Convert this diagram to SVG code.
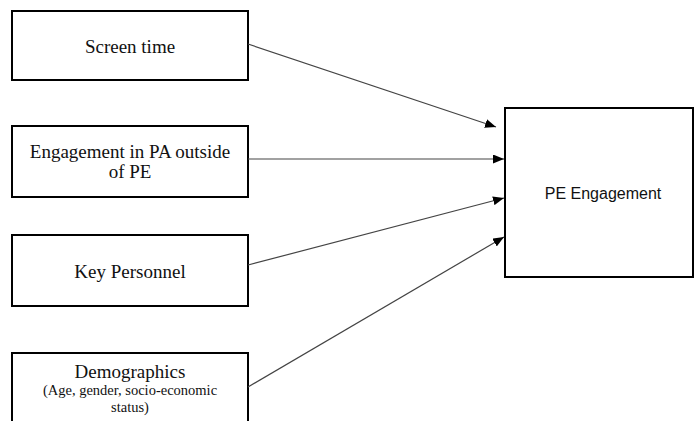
<svg xmlns="http://www.w3.org/2000/svg" width="694" height="421" viewBox="0 0 694 421">
<style>
.box{fill:#fff;stroke:#000;stroke-width:2}
.t{font-family:"Liberation Serif","Times New Roman",serif;font-size:19px;fill:#111;text-anchor:middle}
.s{font-size:14.5px}
.sans{font-family:"Liberation Sans",Arial,sans-serif;font-size:16px;fill:#111;text-anchor:middle}
.c{stroke:#444;stroke-width:1.2;fill:none;marker-end:url(#ah)}
</style>
<defs>
<marker id="ah" markerWidth="11" markerHeight="9" refX="11" refY="4.5" orient="auto" markerUnits="userSpaceOnUse">
<path d="M0,0 L11,4.5 L0,9 Z" fill="#000"/>
</marker>
</defs>
<rect width="694" height="421" fill="#fff"/>
<g id="screen-time">
<rect class="box" x="12" y="11" width="236" height="69"/>
<text class="t" x="130" y="53">Screen time</text>
</g>
<g id="engagement-pa">
<rect class="box" x="12" y="126" width="236" height="71"/>
<text class="t" x="130" y="158">Engagement in PA outside</text>
<text class="t" x="130" y="178">of PE</text>
</g>
<g id="key-personnel">
<rect class="box" x="12" y="235" width="236" height="71"/>
<text class="t" x="130" y="278">Key Personnel</text>
</g>
<g id="demographics">
<rect class="box" x="12" y="353" width="236" height="80"/>
<text class="t" x="130" y="378">Demographics</text>
<text class="t s" x="130" y="395">(Age, gender, socio-economic</text>
<text class="t s" x="130" y="412">status)</text>
</g>
<g id="pe-engagement">
<rect class="box" x="505" y="108" width="188" height="169"/>
<text class="sans" x="603" y="199">PE Engagement</text>
</g>
<g id="connectors">
<line class="c" x1="248" y1="44" x2="496" y2="127"/>
<line class="c" x1="248" y1="159" x2="504" y2="159"/>
<line class="c" x1="248" y1="265" x2="504" y2="198"/>
<line class="c" x1="248" y1="387" x2="504" y2="237"/>
</g>
</svg>
